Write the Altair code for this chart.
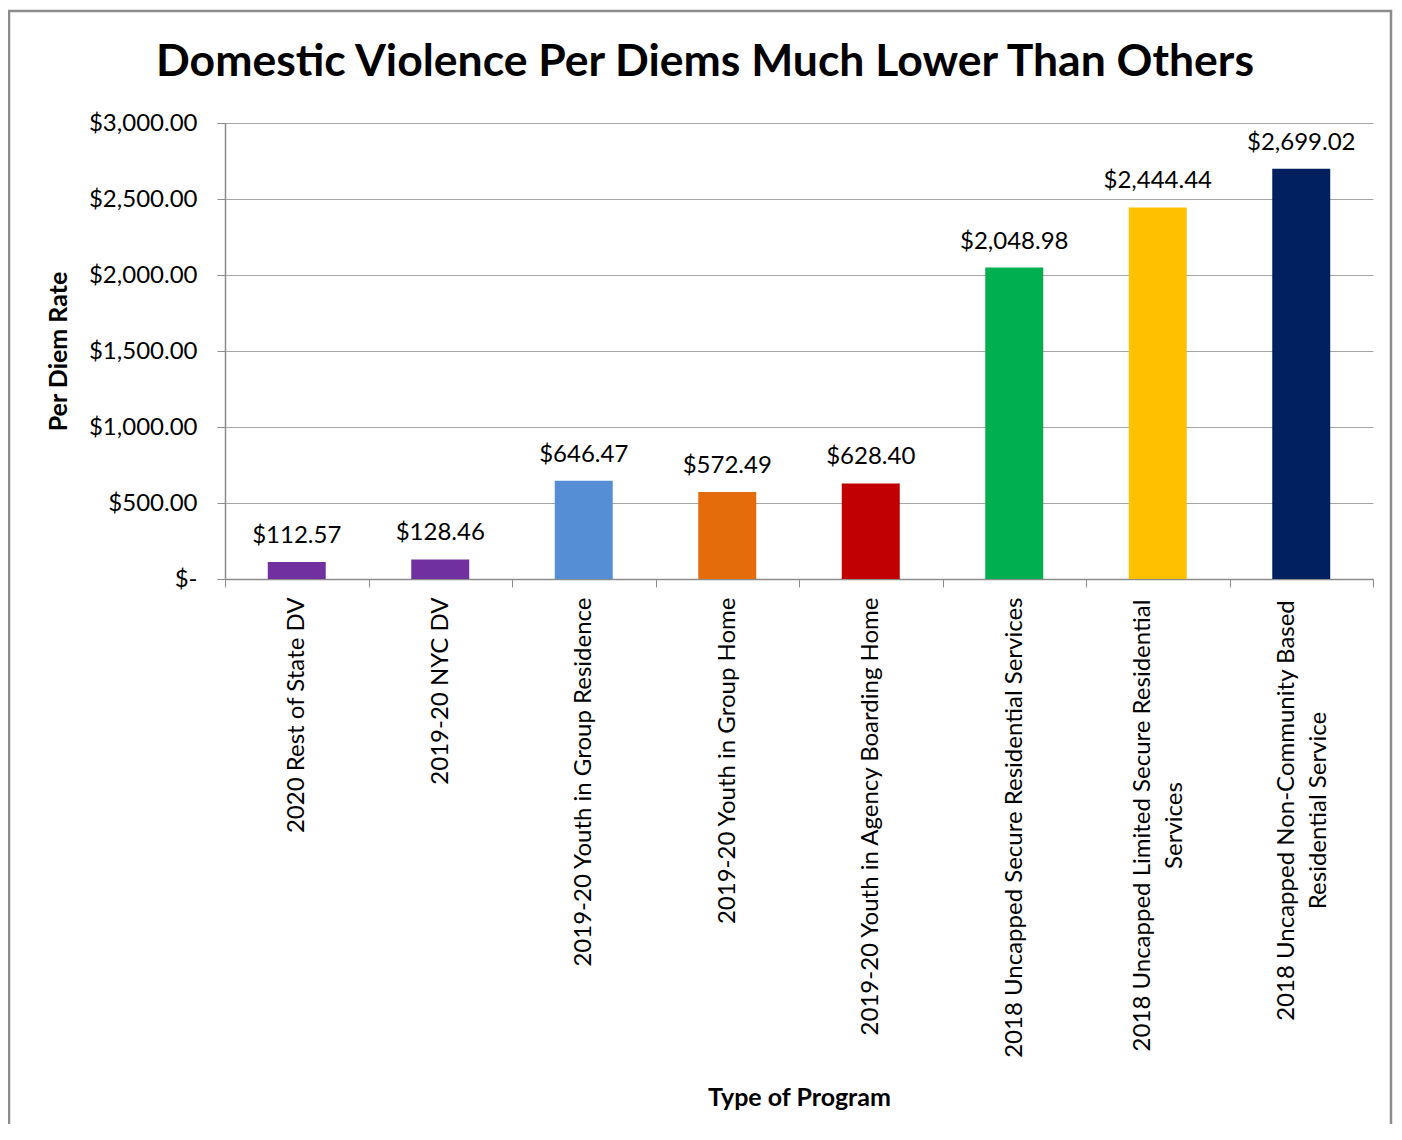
import altair as alt
import pandas as pd

# ---- data ----
categories = [
    "2020 Rest of State DV",
    "2019-20 NYC DV",
    "2019-20 Youth in Group Residence",
    "2019-20 Youth in Group Home",
    "2019-20 Youth in Agency Boarding Home",
    "2018 Uncapped Secure Residential Services",
    "2018 Uncapped Limited Secure Residential Services",
    "2018 Uncapped Non-Community Based Residential Service",
]
values = [112.57, 128.46, 646.47, 572.49, 628.40, 2048.98, 2444.44, 2699.02]
colors = ["#7030A0", "#7030A0", "#558ED5", "#E46C0A", "#C00000",
          "#00B050", "#FFC000", "#002060"]
# wrapped axis labels (line 1, line 2)
wrapped = {
    "2018 Uncapped Limited Secure Residential Services":
        ["2018 Uncapped Limited Secure Residential", "Services"],
    "2018 Uncapped Non-Community Based Residential Service":
        ["2018 Uncapped Non-Community Based", "Residential Service"],
}
y_ticks = [0, 500, 1000, 1500, 2000, 2500, 3000]

df = pd.DataFrame({"program": categories, "rate": values})

W, H = 1148, 456
FONT = "Lato"
GRAY = "#8c8c8c"
FS = 24

expr = "datum.label"
for k, (l1, l2) in wrapped.items():
    expr = f"datum.value == '{k}' ? ['{l1}', '{l2}'] : " + expr

k1, k2 = list(wrapped.keys())
test_wrap = f"datum.value == '{k1}' || datum.value == '{k2}'"

x_enc = alt.X(
    "program:N",
    sort=categories,
    title="Type of Program",
    scale=alt.Scale(paddingInner=0, paddingOuter=0),
    axis=alt.Axis(
        labelAngle=270,
        labelAlign={"condition": {"test": test_wrap, "value": "center"}, "value": "right"},
        labelBaseline="middle",
        labelExpr=expr,
        labelFont=FONT,
        labelFontSize=FS,
        labelColor="black",
        labelLineHeight=32,
        labelPadding={"condition": [
            {"test": f"datum.value == '{k1}'", "value": 238},
            {"test": f"datum.value == '{k2}'", "value": 223},
        ], "value": 10},
        labelOffset={"condition": {"test": test_wrap, "value": -15}, "value": 0},
        labelLimit=0,
        tickBand="extent",
        tickSize=8,
        tickColor=GRAY,
        domainColor=GRAY,
        domainWidth=1.5,
        grid=False,
        titleFont=FONT,
        titleFontSize=25,
        titleFontWeight="bold",
        titleColor="black",
        titleY=518,
        titleBaseline="middle",
    ),
)

y_enc = alt.Y(
    "rate:Q",
    title="Per Diem Rate",
    scale=alt.Scale(domain=[0, 3000], nice=False),
    axis=alt.Axis(
        values=y_ticks,
        labelExpr="datum.value == 0 ? '$-' : format(datum.value, '$,.2f')",
        labelFont=FONT,
        labelFontSize=FS,
        labelColor="black",
        labelPadding=20,
        tickSize=8,
        tickColor=GRAY,
        domainColor=GRAY,
        domainWidth=1.5,
        gridColor="#a6a6a6",
        gridWidth=1.2,
        titleFont=FONT,
        titleFontSize=25,
        titleFontWeight="bold",
        titleColor="black",
        titleAngle=270,
        titleX=-167,
        titleY=228,
        titleAlign="center",
        titleBaseline="middle",
    ),
)

base = alt.Chart(df)

bars = base.mark_bar(width=alt.RelativeBandSize(0.404)).encode(
    x=x_enc,
    y=y_enc,
    color=alt.Color("program:N", scale=alt.Scale(domain=categories, range=colors), legend=None),
)

labels = base.mark_text(
    font=FONT, fontSize=FS, color="black", baseline="alphabetic", dy=-19
).encode(
    x=alt.X("program:N", sort=categories),
    y=alt.Y("rate:Q"),
    text=alt.Text("rate:Q", format="$,.2f"),
)

border = alt.Chart(pd.DataFrame({"b": [0]})).mark_rect(
    fillOpacity=0, stroke=GRAY, strokeWidth=2.5, clip=False
).encode(
    x=alt.value(-216),
    x2=alt.value(W + 18),
    y=alt.value(-112),
    y2=alt.value(H + 700),
)

chart = alt.layer(bars, labels, border).properties(
    width=W,
    height=H,
    title=alt.TitleParams(
        "Domestic Violence Per Diems Much Lower Than Others",
        font=FONT,
        fontSize=44.5,
        fontWeight="bold",
        color="black",
        anchor="middle",
        frame="group",
        dx=-94,
        baseline="alphabetic",
        offset=-111,
    ),
    autosize=alt.AutoSizeParams(type="none"),
    padding={"left": 217, "top": 115, "right": 20, "bottom": 545},
).configure_view(strokeWidth=0)

chart.save("out.html", embed_options={"renderer": "svg", "actions": False})
